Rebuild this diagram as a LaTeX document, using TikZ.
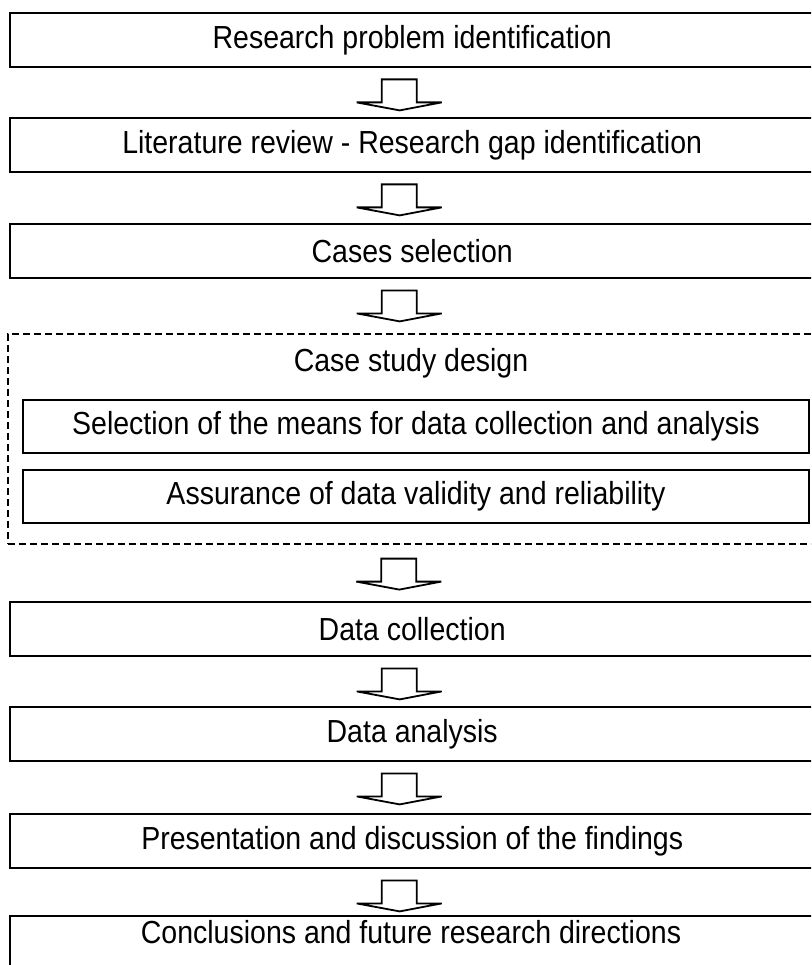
\documentclass[tikz,border=0pt]{standalone}
\usepackage{fontspec}
\setmainfont{Liberation Sans}
\usetikzlibrary{calc}
\newcommand{\tallt}[1]{\scalebox{1}[1.12]{#1}}
\begin{document}
\begin{tikzpicture}[x=1pt,y=-1pt,
  txtfont/.style={font=\fontsize{28.5}{34}\selectfont},
  stepbox/.style={draw=black, line width=2.4pt, minimum width=804pt, minimum height=54pt, inner sep=0pt, anchor=north west, txtfont},
  innerbox/.style={draw=black, line width=2pt, minimum width=786pt, minimum height=53pt, inner sep=0pt, anchor=north west, txtfont},
  groupbox/.style={draw=black, dash pattern=on 7pt off 4pt, line width=1.6pt, minimum width=808pt, minimum height=210pt, inner sep=0pt, anchor=north west},
  lbl/.style={inner sep=0pt, txtfont},
  fatarrow/.pic={\draw[line width=1.8pt] (-17.5,0) -- (-17.5,23) -- (-42.5,23) -- (0.5,31) -- (42.5,23) -- (17.5,23) -- (17.5,0) -- cycle;}
]
\useasboundingbox (0,0) rectangle (811,965);
\clip (0,0) rectangle (811,965);

\node[stepbox] (b1) at (9,12) {\tallt{Research problem identification}};
\node[stepbox] (b2) at (9,117) {\tallt{Literature review - Research gap identification}};
\node[stepbox] (b3) at (9,223) {\tallt{Cases selection}};
\node[groupbox] (g) at (7,333) {};
\node[lbl] (gt) at (411,363) {\tallt{Case study design}};
\node[innerbox] (i1) at (22,399) {\tallt{Selection of the means for data collection and analysis}};
\node[innerbox] (i2) at (22,469) {\tallt{Assurance of data validity and reliability}};
\node[stepbox] (b5) at (9,601) {\tallt{Data collection}};
\node[stepbox] (b6) at (9,706) {\tallt{Data analysis}};
\node[stepbox] (b7) at (9,813) {\tallt{Presentation and discussion of the findings}};
\node[stepbox, minimum height=80pt] (b8) at (9,915) {};
\node[lbl] (t8) at (411,932) {\tallt{Conclusions and future research directions}};

\pic at ($(b1.south)+(-13,11)$) {fatarrow};
\pic at ($(b2.south)+(-13,11)$) {fatarrow};
\pic at ($(b3.south)+(-13,11)$) {fatarrow};
\pic at ($(g.south)+(-13,14)$) {fatarrow};
\pic at ($(b5.south)+(-13,11)$) {fatarrow};
\pic at ($(b6.south)+(-13,11)$) {fatarrow};
\pic at ($(b7.south)+(-13,11)$) {fatarrow};
\end{tikzpicture}
\end{document}
